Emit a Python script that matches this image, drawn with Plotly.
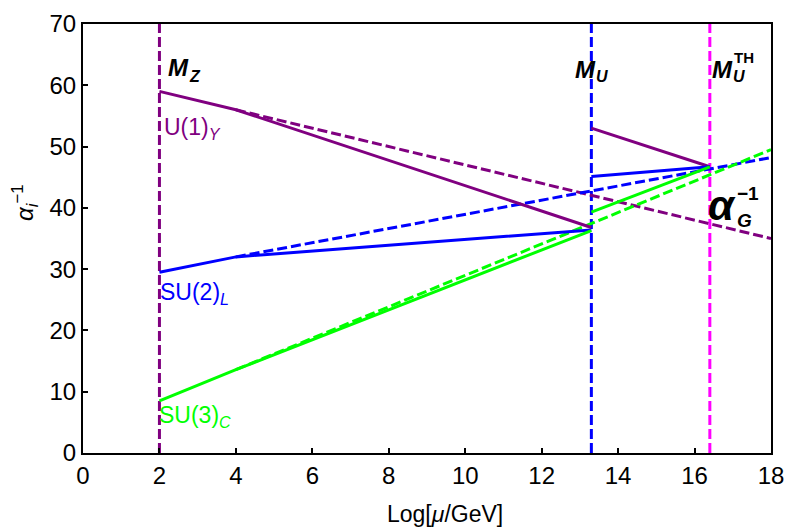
import plotly.graph_objects as go

# scale markers (Log10[mu/GeV])
x_mz = 2.0
x_mu = 13.3
x_th = 16.4

# U(1)_Y
u1_solid_x = [2.0, 4.0, 13.3]
u1_solid_y = [59.0, 56.0, 36.8]
u1_dash_x = [4.0, 18.0]
u1_dash_y = [56.0, 35.0]
u1_high_x = [13.3, 16.4]
u1_high_y = [53.0, 46.7]

# SU(2)_L
su2_solid_x = [2.0, 4.0, 13.3]
su2_solid_y = [29.5, 32.0, 36.4]
su2_dash_x = [4.0, 18.0]
su2_dash_y = [32.0, 48.2]
su2_high_x = [13.3, 16.4]
su2_high_y = [45.1, 46.7]

# SU(3)_C
su3_solid_x = [2.0, 4.0, 13.3]
su3_solid_y = [8.5, 13.6, 36.3]
su3_dash_x = [4.0, 18.0]
su3_dash_y = [13.6, 49.5]
su3_high_x = [13.3, 16.4]
su3_high_y = [39.3, 46.7]

x_ticks = [0, 2, 4, 6, 8, 10, 12, 14, 16, 18]
y_ticks = [0, 10, 20, 30, 40, 50, 60, 70]

PURPLE = "#800080"
BLUE = "#0000FF"
GREEN = "#00FF00"
MAGENTA = "#FF00FF"
DASH = "10px,4px"
FONT = "Liberation Sans, Arial, Helvetica, sans-serif"

fig = go.Figure()

def line(x, y, color, dash=None, width=3):
    fig.add_trace(go.Scatter(x=x, y=y, mode="lines",
                             line=dict(color=color, width=width, dash=dash or "solid"),
                             showlegend=False, hoverinfo="skip"))

# vertical scale lines
line([x_mz, x_mz], [0, 70], PURPLE, DASH)
line([x_mu, x_mu], [0, 70], BLUE, DASH)
line([x_th, x_th], [0, 70], MAGENTA, DASH)

# dashed extrapolations
line(u1_dash_x, u1_dash_y, PURPLE, DASH)
line(su2_dash_x, su2_dash_y, BLUE, DASH)
line(su3_dash_x, su3_dash_y, GREEN, DASH)

# solid runnings
line(u1_solid_x, u1_solid_y, PURPLE)
line(su2_solid_x, su2_solid_y, BLUE)
line(su3_solid_x, su3_solid_y, GREEN)
line(u1_high_x, u1_high_y, PURPLE)
line(su2_high_x, su2_high_y, BLUE)
line(su3_high_x, su3_high_y, GREEN)

def ann(x, y, text, size, color="black", xanchor="left", yanchor="middle"):
    fig.add_annotation(x=x, y=y, xref="x", yref="y", text=text, showarrow=False,
                       xanchor=xanchor, yanchor=yanchor, borderpad=0,
                       font=dict(family=FONT, size=size, color=color))

ann(2.2, 62.9, "<b><i>M</i></b>", 24)
ann(2.75, 61.5, "<b><i>Z</i></b>", 16)
ann(12.85, 62.6, "<b><i>M</i></b>", 24)
ann(13.4, 61.4, "<b><i>U</i></b>", 16)
ann(16.42, 62.6, "<b><i>M</i></b>", 24)
ann(16.97, 61.4, "<b><i>U</i></b>", 16)
ann(17.0, 64.6, "<b>TH</b>", 15)
ann(16.32, 40.4, "<b><i>α</i></b>", 42)
ann(17.08, 38.0, "<b><i>G</i></b>", 19)
ann(17.08, 42.4, "<b>−1</b>", 19)
ann(2.08, 53.0, "U(1)<sub><i>Y</i></sub>", 23, PURPLE)
ann(2.0, 26.1, "SU(2)<sub><i>L</i></sub>", 23, BLUE)
ann(1.95, 6.0, "SU(3)<sub><i>C</i></sub>", 23, GREEN)

# axis titles as annotations (positioned like the reference)
fig.add_annotation(x=0.526, y=0, xref="paper", yref="paper", yshift=-61,
                   text="Log[<i>μ</i>/GeV]", showarrow=False, xanchor="center", yanchor="middle",
                   font=dict(family=FONT, size=23, color="black"))
fig.add_annotation(x=0, y=0.583, xref="paper", yref="paper", xshift=-58,
                   text="<i>α</i><sub><i>i</i></sub><sup>−1</sup>", showarrow=False, textangle=-90,
                   xanchor="center", yanchor="middle",
                   font=dict(family=FONT, size=24, color="black"))

axis_common = dict(showline=True, linecolor="black", linewidth=2, mirror=True,
                   ticks="inside", ticklen=5, tickwidth=2, tickcolor="black",
                   showgrid=False, zeroline=False,
                   tickfont=dict(family=FONT, size=24, color="black"))

fig.update_xaxes(range=[0, 18], tickvals=x_ticks, ticktext=[str(v) for v in x_ticks], **axis_common)
fig.update_yaxes(range=[0, 70], tickvals=y_ticks, ticktext=[str(v) for v in y_ticks], **axis_common)

fig.update_layout(width=788, height=527, margin=dict(l=83, r=17, t=24, b=74, autoexpand=False),
                  plot_bgcolor="white", paper_bgcolor="white", showlegend=False)

# remove the default page margin so the 788x527 figure fills the window exactly
fig.write_html("out.html", config={"displayModeBar": False},
               post_script="document.body.style.margin='0';document.body.style.overflow='hidden';")
